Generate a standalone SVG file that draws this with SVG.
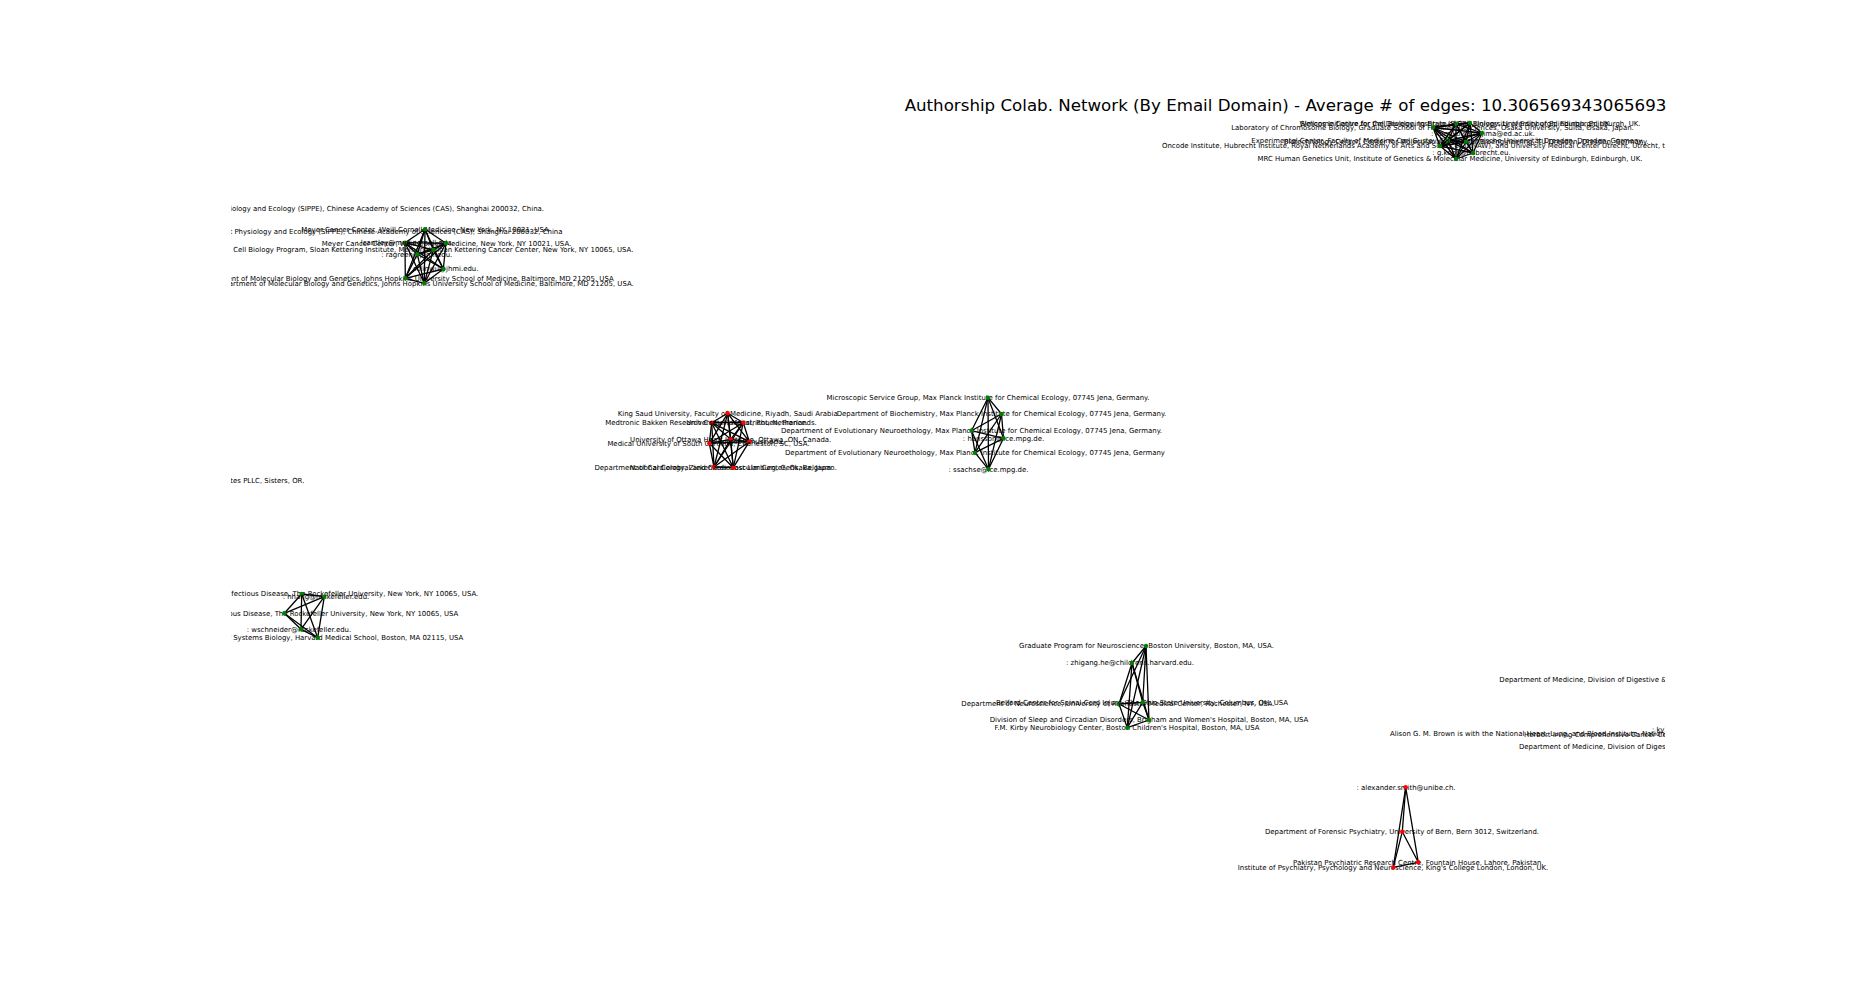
<svg xmlns="http://www.w3.org/2000/svg" width="1850" height="997" viewBox="0 0 1850 997">
<defs>
<clipPath id="ax"><rect x="231" y="0" width="1434" height="997"/></clipPath>
<style>
.t{font-family:"DejaVu Sans","Liberation Sans",sans-serif;font-size:6.94px;fill:#000;text-anchor:middle}
.s{text-anchor:start}
.en{text-anchor:end}
.title{font-family:"DejaVu Sans","Liberation Sans",sans-serif;font-size:16.67px;fill:#000;text-anchor:middle}
.c{stroke:#000;stroke-width:1.3;fill:none;stroke-linecap:round}
.g{fill:#008000}
.r{fill:#ff0000}
</style>
</defs>
<rect width="1850" height="997" fill="#fff"/>
<text class="title" x="1285.5" y="111">Authorship Colab. Network (By Email Domain) - Average # of edges: 10.306569343065693</text>
<g clip-path="url(#ax)">
<g id="connectors">
<line class="c" x1="1456" y1="124" x2="1470" y2="123"/><line class="c" x1="1456" y1="124" x2="1433" y2="127.5"/><line class="c" x1="1456" y1="124" x2="1482" y2="133"/><line class="c" x1="1456" y1="124" x2="1448" y2="140.5"/><line class="c" x1="1456" y1="124" x2="1466" y2="142"/><line class="c" x1="1456" y1="124" x2="1440" y2="146"/><line class="c" x1="1456" y1="124" x2="1473" y2="153"/><line class="c" x1="1456" y1="124" x2="1456" y2="159"/>
<line class="c" x1="1470" y1="123" x2="1433" y2="127.5"/><line class="c" x1="1470" y1="123" x2="1482" y2="133"/><line class="c" x1="1470" y1="123" x2="1448" y2="140.5"/><line class="c" x1="1470" y1="123" x2="1466" y2="142"/><line class="c" x1="1470" y1="123" x2="1440" y2="146"/><line class="c" x1="1470" y1="123" x2="1473" y2="153"/><line class="c" x1="1470" y1="123" x2="1456" y2="159"/>
<line class="c" x1="1433" y1="127.5" x2="1482" y2="133"/><line class="c" x1="1433" y1="127.5" x2="1448" y2="140.5"/><line class="c" x1="1433" y1="127.5" x2="1466" y2="142"/><line class="c" x1="1433" y1="127.5" x2="1440" y2="146"/><line class="c" x1="1433" y1="127.5" x2="1473" y2="153"/><line class="c" x1="1433" y1="127.5" x2="1456" y2="159"/>
<line class="c" x1="1482" y1="133" x2="1448" y2="140.5"/><line class="c" x1="1482" y1="133" x2="1466" y2="142"/><line class="c" x1="1482" y1="133" x2="1440" y2="146"/><line class="c" x1="1482" y1="133" x2="1473" y2="153"/><line class="c" x1="1482" y1="133" x2="1456" y2="159"/>
<line class="c" x1="1448" y1="140.5" x2="1466" y2="142"/><line class="c" x1="1448" y1="140.5" x2="1440" y2="146"/><line class="c" x1="1448" y1="140.5" x2="1473" y2="153"/><line class="c" x1="1448" y1="140.5" x2="1456" y2="159"/>
<line class="c" x1="1466" y1="142" x2="1440" y2="146"/><line class="c" x1="1466" y1="142" x2="1473" y2="153"/><line class="c" x1="1466" y1="142" x2="1456" y2="159"/>
<line class="c" x1="1440" y1="146" x2="1473" y2="153"/><line class="c" x1="1440" y1="146" x2="1456" y2="159"/><line class="c" x1="1473" y1="153" x2="1456" y2="159"/>
<line class="c" x1="425" y1="229.3" x2="405" y2="242.7"/><line class="c" x1="425" y1="229.3" x2="446" y2="243.3"/><line class="c" x1="425" y1="229.3" x2="433.3" y2="250"/><line class="c" x1="425" y1="229.3" x2="417.3" y2="254.3"/><line class="c" x1="425" y1="229.3" x2="443.3" y2="269"/><line class="c" x1="425" y1="229.3" x2="405.3" y2="278.3"/><line class="c" x1="425" y1="229.3" x2="424.3" y2="283.3"/>
<line class="c" x1="405" y1="242.7" x2="446" y2="243.3"/><line class="c" x1="405" y1="242.7" x2="433.3" y2="250"/><line class="c" x1="405" y1="242.7" x2="417.3" y2="254.3"/><line class="c" x1="405" y1="242.7" x2="443.3" y2="269"/><line class="c" x1="405" y1="242.7" x2="405.3" y2="278.3"/><line class="c" x1="405" y1="242.7" x2="424.3" y2="283.3"/>
<line class="c" x1="446" y1="243.3" x2="433.3" y2="250"/><line class="c" x1="446" y1="243.3" x2="417.3" y2="254.3"/><line class="c" x1="446" y1="243.3" x2="443.3" y2="269"/><line class="c" x1="446" y1="243.3" x2="405.3" y2="278.3"/><line class="c" x1="446" y1="243.3" x2="424.3" y2="283.3"/>
<line class="c" x1="433.3" y1="250" x2="417.3" y2="254.3"/><line class="c" x1="433.3" y1="250" x2="443.3" y2="269"/><line class="c" x1="433.3" y1="250" x2="405.3" y2="278.3"/><line class="c" x1="433.3" y1="250" x2="424.3" y2="283.3"/>
<line class="c" x1="417.3" y1="254.3" x2="443.3" y2="269"/><line class="c" x1="417.3" y1="254.3" x2="405.3" y2="278.3"/><line class="c" x1="417.3" y1="254.3" x2="424.3" y2="283.3"/>
<line class="c" x1="443.3" y1="269" x2="405.3" y2="278.3"/><line class="c" x1="443.3" y1="269" x2="424.3" y2="283.3"/><line class="c" x1="405.3" y1="278.3" x2="424.3" y2="283.3"/>
<line class="c" x1="727.7" y1="413.3" x2="711.7" y2="422.7"/><line class="c" x1="727.7" y1="413.3" x2="743.3" y2="422.7"/><line class="c" x1="727.7" y1="413.3" x2="730.7" y2="439.3"/><line class="c" x1="727.7" y1="413.3" x2="749.3" y2="441.7"/><line class="c" x1="727.7" y1="413.3" x2="709.3" y2="443.3"/><line class="c" x1="727.7" y1="413.3" x2="714" y2="467"/><line class="c" x1="727.7" y1="413.3" x2="733.3" y2="467.7"/>
<line class="c" x1="711.7" y1="422.7" x2="743.3" y2="422.7"/><line class="c" x1="711.7" y1="422.7" x2="730.7" y2="439.3"/><line class="c" x1="711.7" y1="422.7" x2="749.3" y2="441.7"/><line class="c" x1="711.7" y1="422.7" x2="709.3" y2="443.3"/><line class="c" x1="711.7" y1="422.7" x2="714" y2="467"/><line class="c" x1="711.7" y1="422.7" x2="733.3" y2="467.7"/>
<line class="c" x1="743.3" y1="422.7" x2="730.7" y2="439.3"/><line class="c" x1="743.3" y1="422.7" x2="749.3" y2="441.7"/><line class="c" x1="743.3" y1="422.7" x2="709.3" y2="443.3"/><line class="c" x1="743.3" y1="422.7" x2="714" y2="467"/><line class="c" x1="743.3" y1="422.7" x2="733.3" y2="467.7"/>
<line class="c" x1="730.7" y1="439.3" x2="749.3" y2="441.7"/><line class="c" x1="730.7" y1="439.3" x2="709.3" y2="443.3"/><line class="c" x1="730.7" y1="439.3" x2="714" y2="467"/><line class="c" x1="730.7" y1="439.3" x2="733.3" y2="467.7"/>
<line class="c" x1="749.3" y1="441.7" x2="709.3" y2="443.3"/><line class="c" x1="749.3" y1="441.7" x2="714" y2="467"/><line class="c" x1="749.3" y1="441.7" x2="733.3" y2="467.7"/>
<line class="c" x1="709.3" y1="443.3" x2="714" y2="467"/><line class="c" x1="709.3" y1="443.3" x2="733.3" y2="467.7"/><line class="c" x1="714" y1="467" x2="733.3" y2="467.7"/>
<line class="c" x1="988" y1="397.7" x2="1001.5" y2="414"/><line class="c" x1="988" y1="397.7" x2="971.5" y2="430.7"/><line class="c" x1="988" y1="397.7" x2="1003.5" y2="438.3"/><line class="c" x1="988" y1="397.7" x2="975" y2="452.7"/><line class="c" x1="988" y1="397.7" x2="988.5" y2="469.3"/>
<line class="c" x1="1001.5" y1="414" x2="971.5" y2="430.7"/><line class="c" x1="1001.5" y1="414" x2="1003.5" y2="438.3"/><line class="c" x1="1001.5" y1="414" x2="975" y2="452.7"/><line class="c" x1="1001.5" y1="414" x2="988.5" y2="469.3"/>
<line class="c" x1="971.5" y1="430.7" x2="1003.5" y2="438.3"/><line class="c" x1="971.5" y1="430.7" x2="975" y2="452.7"/><line class="c" x1="971.5" y1="430.7" x2="988.5" y2="469.3"/>
<line class="c" x1="1003.5" y1="438.3" x2="975" y2="452.7"/><line class="c" x1="1003.5" y1="438.3" x2="988.5" y2="469.3"/><line class="c" x1="975" y1="452.7" x2="988.5" y2="469.3"/>
<line class="c" x1="301.7" y1="594" x2="324.3" y2="596.7"/><line class="c" x1="301.7" y1="594" x2="284.3" y2="613.3"/><line class="c" x1="301.7" y1="594" x2="301" y2="629.3"/><line class="c" x1="301.7" y1="594" x2="317.7" y2="637.7"/>
<line class="c" x1="324.3" y1="596.7" x2="284.3" y2="613.3"/><line class="c" x1="324.3" y1="596.7" x2="301" y2="629.3"/><line class="c" x1="324.3" y1="596.7" x2="317.7" y2="637.7"/>
<line class="c" x1="284.3" y1="613.3" x2="301" y2="629.3"/><line class="c" x1="284.3" y1="613.3" x2="317.7" y2="637.7"/><line class="c" x1="301" y1="629.3" x2="317.7" y2="637.7"/>
<line class="c" x1="1146" y1="646" x2="1132" y2="663"/><line class="c" x1="1146" y1="646" x2="1119" y2="704"/><line class="c" x1="1146" y1="646" x2="1142.7" y2="702.3"/><line class="c" x1="1146" y1="646" x2="1149" y2="720"/><line class="c" x1="1146" y1="646" x2="1127.3" y2="727.7"/>
<line class="c" x1="1132" y1="663" x2="1119" y2="704"/><line class="c" x1="1132" y1="663" x2="1142.7" y2="702.3"/><line class="c" x1="1132" y1="663" x2="1149" y2="720"/><line class="c" x1="1132" y1="663" x2="1127.3" y2="727.7"/>
<line class="c" x1="1119" y1="704" x2="1142.7" y2="702.3"/><line class="c" x1="1119" y1="704" x2="1149" y2="720"/><line class="c" x1="1119" y1="704" x2="1127.3" y2="727.7"/>
<line class="c" x1="1142.7" y1="702.3" x2="1149" y2="720"/><line class="c" x1="1142.7" y1="702.3" x2="1127.3" y2="727.7"/><line class="c" x1="1149" y1="720" x2="1127.3" y2="727.7"/>
<line class="c" x1="1405.7" y1="787.3" x2="1402.3" y2="831.7"/><line class="c" x1="1405.7" y1="787.3" x2="1418.3" y2="862.3"/><line class="c" x1="1405.7" y1="787.3" x2="1393.3" y2="867.3"/>
<line class="c" x1="1402.3" y1="831.7" x2="1418.3" y2="862.3"/><line class="c" x1="1402.3" y1="831.7" x2="1393.3" y2="867.3"/><line class="c" x1="1418.3" y1="862.3" x2="1393.3" y2="867.3"/>
</g>
<g id="node-t1"><text class="t" x="1456" y="125.8">Simons Initiative for the Developing Brain (SIDB), University of Edinburgh, Edinburgh, UK.</text><circle class="g" cx="1456" cy="124" r="2.2"/></g>
<g id="node-t2"><text class="t" x="1470" y="125.5">Wellcome Centre for Cell Biology, Institute of Cell Biology, University of Edinburgh, Edinburgh, UK.</text><circle class="g" cx="1470" cy="123" r="2.2"/></g>
<g id="node-t3"><text class="t" x="1432.5" y="129.8">Laboratory of Chromosome Biology, Graduate School of Frontier Biosciences, Osaka University, Suita, Osaka, Japan.</text><circle class="g" cx="1433" cy="127.5" r="2.2"/></g>
<g id="node-t4"><text class="t" x="1483" y="135.5">: kumiko.samejima@ed.ac.uk.</text><circle class="g" cx="1482" cy="133" r="2.2"/></g>
<g id="node-t5"><text class="t" x="1447.5" y="142.8">Experimental Center, Faculty of Medicine Carl Gustav Carus, Technische Universität Dresden, Dresden, Germany.</text><circle class="g" cx="1448" cy="140.5" r="2.2"/></g>
<g id="node-t6"><text class="t" x="1466" y="143.8">Biotechnology Center, Center for Molecular and Cellular Bioengineering, TU Dresden, Dresden, Germany.</text><circle class="g" cx="1466" cy="142" r="2.2"/></g>
<g id="node-t7"><text class="t s" x="1162" y="147.8">Oncode Institute, Hubrecht Institute, Royal Netherlands Academy of Arts and Sciences (KNAW), and University Medical Center Utrecht, Utrecht, the Netherlands.</text><circle class="g" cx="1440" cy="146" r="2.2"/></g>
<g id="node-t8"><text class="t" x="1471.5" y="155.3">: g.kops@hubrecht.eu.</text><circle class="g" cx="1473" cy="153" r="2.2"/></g>
<g id="node-t9"><text class="t" x="1450" y="161">MRC Human Genetics Unit, Institute of Genetics &amp; Molecular Medicine, University of Edinburgh, Edinburgh, UK.</text><circle class="g" cx="1456" cy="159" r="2.2"/></g>
<g id="node-sippe1"><text class="t en" x="544" y="211">CAS Center for Excellence in Molecular Plant Sciences, Institute of Plant Physiology and Ecology (SIPPE), Chinese Academy of Sciences (CAS), Shanghai 200032, China.</text></g>
<g id="node-sippe2"><text class="t en" x="562.5" y="233.8">CAS Center for Excellence in Molecular Plant Sciences, Institute of Plant Physiology and Ecology (SIPPE), Chinese Academy of Sciences (CAS), Shanghai 200032, China</text></g>
<g id="node-p1"><text class="t" x="425" y="231.6">Meyer Cancer Center, Weill Cornell Medicine, New York, NY 10021, USA</text><circle class="g" cx="425" cy="229.3" r="2.2"/></g>
<g id="node-p2"><text class="t" x="405" y="245">: lcantley@med.cornell.edu.</text><circle class="g" cx="405" cy="242.7" r="2.2"/></g>
<g id="node-p3"><text class="t" x="446.5" y="245.5">Meyer Cancer Center, Weill Cornell Medicine, New York, NY 10021, USA.</text><circle class="g" cx="446" cy="243.3" r="2.2"/></g>
<g id="node-p4"><text class="t" x="433.3" y="252.3">Cell Biology Program, Sloan Kettering Institute, Memorial Sloan Kettering Cancer Center, New York, NY 10065, USA.</text><circle class="g" cx="433.3" cy="250" r="2.2"/></g>
<g id="node-p5"><text class="t" x="416.7" y="256.8">: ragreen@jhmi.edu.</text><circle class="g" cx="417.3" cy="254.3" r="2.2"/></g>
<g id="node-p6"><text class="t" x="443.3" y="271.3">: colinwu@jhmi.edu.</text><circle class="g" cx="443.3" cy="269" r="2.2"/></g>
<g id="node-p7"><text class="t" x="405.3" y="280.6">Department of Molecular Biology and Genetics, Johns Hopkins University School of Medicine, Baltimore, MD 21205, USA</text><circle class="g" cx="405.3" cy="278.3" r="2.2"/></g>
<g id="node-p8"><text class="t" x="424.3" y="285.6">Department of Molecular Biology and Genetics, Johns Hopkins University School of Medicine, Baltimore, MD 21205, USA.</text><circle class="g" cx="424.3" cy="283.3" r="2.2"/></g>
<g id="node-pllc"><text class="t en" x="304.4" y="482.5">Neurology Associates PLLC, Sisters, OR.</text></g>
<g id="node-ra"><text class="t" x="727.7" y="415.6">King Saud University, Faculty of Medicine, Riyadh, Saudi Arabia</text><circle class="r" cx="727.7" cy="413.3" r="2.2"/></g>
<g id="node-rb"><text class="t" x="711" y="425">Medtronic Bakken Research Center, Maastricht, Netherlands.</text><circle class="r" cx="711.7" cy="422.7" r="2.2"/></g>
<g id="node-rc"><text class="t" x="747" y="425">University Hospital, Rouen, France.</text><circle class="r" cx="743.3" cy="422.7" r="2.2"/></g>
<g id="node-rd"><text class="t" x="730.7" y="441.6">University of Ottawa Heart Institute, Ottawa, ON, Canada.</text><circle class="r" cx="730.7" cy="439.3" r="2.2"/></g>
<g id="node-re"><text class="t" x="749.3" y="444">: kernsb@musc.edu.</text><circle class="r" cx="749.3" cy="441.7" r="2.2"/></g>
<g id="node-rf"><text class="t" x="708.5" y="445.8">Medical University of South Carolina, Charleston, SC, USA.</text><circle class="r" cx="709.3" cy="443.3" r="2.2"/></g>
<g id="node-rg"><text class="t" x="714" y="469.5">Department of Cardiology, Ziekenhuis Oost-Limburg, Genk, Belgium.</text><circle class="r" cx="714" cy="467" r="2.2"/></g>
<g id="node-rh"><text class="t" x="733.3" y="470">National Cerebral and Cardiovascular Center, Osaka, Japan.</text><circle class="r" cx="733.3" cy="467.7" r="2.2"/></g>
<g id="node-m1"><text class="t" x="988" y="400">Microscopic Service Group, Max Planck Institute for Chemical Ecology, 07745 Jena, Germany.</text><circle class="g" cx="988" cy="397.7" r="2.2"/></g>
<g id="node-m2"><text class="t" x="1001.5" y="416.3">Department of Biochemistry, Max Planck Institute for Chemical Ecology, 07745 Jena, Germany.</text><circle class="g" cx="1001.5" cy="414" r="2.2"/></g>
<g id="node-m3"><text class="t" x="971.5" y="433">Department of Evolutionary Neuroethology, Max Planck Institute for Chemical Ecology, 07745 Jena, Germany.</text><circle class="g" cx="971.5" cy="430.7" r="2.2"/></g>
<g id="node-m4"><text class="t" x="1003.5" y="440.6">: hansson@ice.mpg.de.</text><circle class="g" cx="1003.5" cy="438.3" r="2.2"/></g>
<g id="node-m5"><text class="t" x="975" y="455">Department of Evolutionary Neuroethology, Max Planck Institute for Chemical Ecology, 07745 Jena, Germany</text><circle class="g" cx="975" cy="452.7" r="2.2"/></g>
<g id="node-m6"><text class="t" x="988.5" y="471.6">: ssachse@ice.mpg.de.</text><circle class="g" cx="988.5" cy="469.3" r="2.2"/></g>
<g id="node-k1"><text class="t en" x="478.3" y="596.3">Laboratory of Virology and Infectious Disease, The Rockefeller University, New York, NY 10065, USA.</text><circle class="g" cx="301.7" cy="594" r="2.2"/></g>
<g id="node-k2"><text class="t" x="326" y="599">: hhang@rockefeller.edu.</text><circle class="g" cx="324.3" cy="596.7" r="2.2"/></g>
<g id="node-k3"><text class="t en" x="458.3" y="615.6">Laboratory of Virology and Infectious Disease, The Rockefeller University, New York, NY 10065, USA</text><circle class="g" cx="284.3" cy="613.3" r="2.2"/></g>
<g id="node-k4"><text class="t" x="299" y="631.6">: wschneider@rockefeller.edu.</text><circle class="g" cx="301" cy="629.3" r="2.2"/></g>
<g id="node-k5"><text class="t en" x="463.3" y="640">Department of Systems Biology, Harvard Medical School, Boston, MA 02115, USA</text><circle class="g" cx="317.7" cy="637.7" r="2.2"/></g>
<g id="node-b1"><text class="t" x="1146.5" y="648.3">Graduate Program for Neuroscience, Boston University, Boston, MA, USA.</text><circle class="g" cx="1146" cy="646" r="2.2"/></g>
<g id="node-b2"><text class="t" x="1130" y="665.3">: zhigang.he@childrens.harvard.edu.</text><circle class="g" cx="1132" cy="663" r="2.2"/></g>
<g id="node-b3"><text class="t" x="1118" y="706.3">Department of Neuroscience, University of Rochester Medical Center, Rochester, NY, USA.</text><circle class="g" cx="1119" cy="704" r="2.2"/></g>
<g id="node-b4"><text class="t" x="1142" y="704.6">Belford Center for Spinal Cord Injury, The Ohio State University, Columbus, OH, USA</text><circle class="g" cx="1142.7" cy="702.3" r="2.2"/></g>
<g id="node-b5"><text class="t" x="1149" y="722.3">Division of Sleep and Circadian Disorders, Brigham and Women's Hospital, Boston, MA, USA</text><circle class="g" cx="1149" cy="720" r="2.2"/></g>
<g id="node-b6"><text class="t" x="1127" y="730">F.M. Kirby Neurobiology Center, Boston Children's Hospital, Boston, MA, USA</text><circle class="g" cx="1127.3" cy="727.7" r="2.2"/></g>
<g id="node-s1"><text class="t" x="1406" y="789.6">: alexander.smith@unibe.ch.</text><circle class="r" cx="1405.7" cy="787.3" r="2.2"/></g>
<g id="node-s2"><text class="t" x="1402" y="834">Department of Forensic Psychiatry, University of Bern, Bern 3012, Switzerland.</text><circle class="r" cx="1402.3" cy="831.7" r="2.2"/></g>
<g id="node-s3"><text class="t" x="1418.3" y="864.6">Pakistan Psychiatric Research Centre, Fountain House, Lahore, Pakistan.</text><circle class="r" cx="1418.3" cy="862.3" r="2.2"/></g>
<g id="node-s4"><text class="t" x="1393" y="869.6">Institute of Psychiatry, Psychology and Neuroscience, King's College London, London, UK.</text><circle class="r" cx="1393.3" cy="867.3" r="2.2"/></g>
<g id="node-col1"><text class="t s" x="1499.3" y="682">Department of Medicine, Division of Digestive &amp; Liver Diseases, Columbia University Irving Medical Center, New York, NY, USA.</text></g>
<g id="node-col2"><text class="t s" x="1652" y="732">: ky2278@cumc.columbia.edu.</text></g>
<g id="node-col3"><text class="t s" x="1390" y="736">Alison G. M. Brown is with the National Heart, Lung, and Blood Institute, National Institutes of Health, Bethesda, MD, USA.</text></g>
<g id="node-col4"><text class="t s" x="1524" y="737">Herbert Irving Comprehensive Cancer Center, Columbia University, New York, NY, USA.</text></g>
<g id="node-col5"><text class="t s" x="1519" y="749">Department of Medicine, Division of Digestive &amp; Liver Diseases, Columbia University, New York, NY, USA.</text></g>
</g>
</svg>
